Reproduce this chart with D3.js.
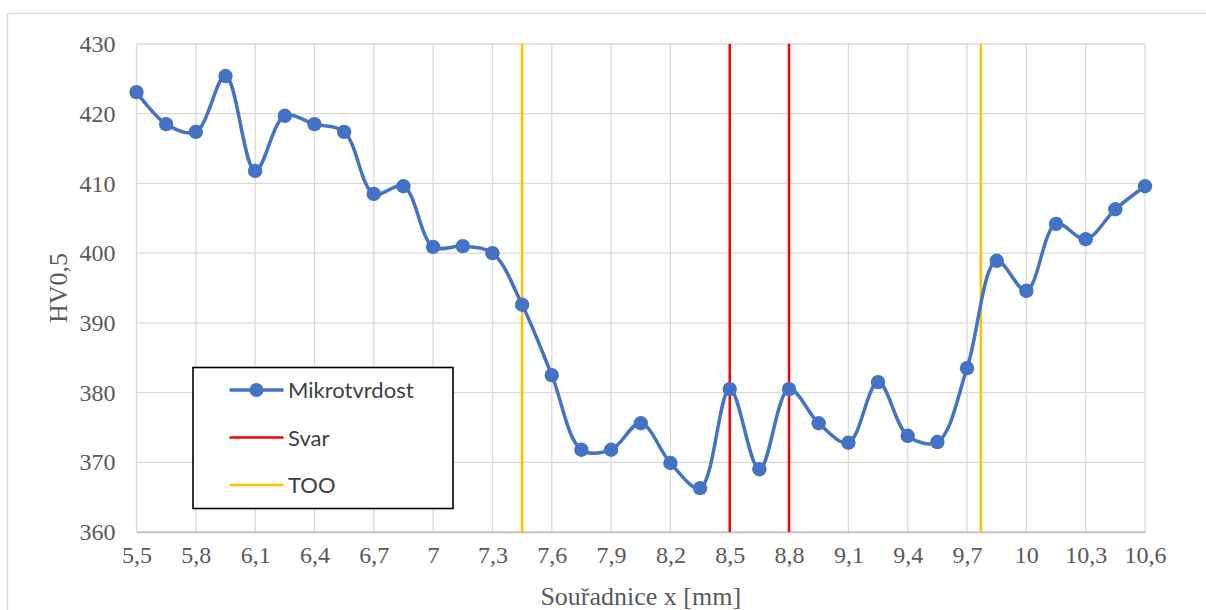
<!DOCTYPE html>
<html>
<head>
<meta charset="utf-8">
<script src="https://cdn.jsdelivr.net/npm/d3@7"></script>
<style>
  html, body { margin: 0; padding: 0; background: #fff; }
  svg { display: block; }
</style>
</head>
<body>
<svg id="chart" width="1206" height="610"></svg>
<script>
// Microhardness profile across the weld
const positions = [5.5, 5.65, 5.8, 5.95, 6.1, 6.25, 6.4, 6.55, 6.7, 6.85,
  7.0, 7.15, 7.3, 7.45, 7.6, 7.75, 7.9, 8.05, 8.2, 8.35,
  8.5, 8.65, 8.8, 8.95, 9.1, 9.25, 9.4, 9.55, 9.7, 9.85,
  10.0, 10.15, 10.3, 10.45, 10.6];
const hardness = [423.1, 418.5, 417.4, 425.4, 411.8, 419.7, 418.5, 417.4, 408.5, 409.6,
  400.9, 401.0, 400.0, 392.6, 382.5, 371.8, 371.8, 375.6, 369.9, 366.3,
  380.5, 369.0, 380.5, 375.6, 372.8, 381.5, 373.8, 372.9, 383.5, 398.9,
  394.6, 404.2, 402.0, 406.3, 409.6];

// Boundary markers: weld (Svar) and heat-affected zone (TOO)
const weldEdges = [8.5, 8.8];
const hazEdges = [7.45, 9.77];

const xTicks = [5.5, 5.8, 6.1, 6.4, 6.7, 7.0, 7.3, 7.6, 7.9, 8.2, 8.5, 8.8, 9.1, 9.4, 9.7, 10.0, 10.3, 10.6];
const yTicks = [360, 370, 380, 390, 400, 410, 420, 430];

const legendItems = ["Mikrotvrdost", "Svar", "TOO"];
const xTitle = "Souřadnice x [mm]";
const yTitle = "HV0,5";

const colors = { data: "#4472C4", weld: "#FF0000", haz: "#FFC000" };

const svg = d3.select("#chart");
const plot = { left: 136.5, right: 1145, top: 44, bottom: 532 };

const x = d3.scaleLinear().domain([5.5, 10.6]).range([plot.left, plot.right]);
const y = d3.scaleLinear().domain([360, 430]).range([plot.bottom, plot.top]);

const czech = d3.formatLocale({ decimal: ",", thousands: " ", grouping: [3], currency: ["", " Kč"] });
const fmt = czech.format("~g");

// outer chart frame
svg.append("rect")
  .attr("x", 7.5).attr("y", 13.5)
  .attr("width", 1230).attr("height", 640)
  .attr("fill", "#fff").attr("stroke", "#D9D9D9").attr("stroke-width", 1.3);

// gridlines
const grid = svg.append("g");
grid.selectAll("line.v").data(xTicks).join("line")
  .attr("x1", d => x(d)).attr("x2", d => x(d))
  .attr("y1", plot.top).attr("y2", plot.bottom)
  .attr("stroke", "#D9D9D9").attr("stroke-width", 1.3);
grid.selectAll("line.h").data(yTicks).join("line")
  .attr("x1", plot.left).attr("x2", plot.right)
  .attr("y1", d => y(d)).attr("y2", d => y(d))
  .attr("stroke", "#D9D9D9").attr("stroke-width", 1.3);

// x axis
const xAxis = svg.append("g")
  .attr("transform", `translate(0,${plot.bottom})`)
  .call(d3.axisBottom(x).tickValues(xTicks).tickFormat(fmt).tickSize(0).tickPadding(14));
xAxis.select(".domain").attr("stroke", "#BFBFBF").attr("stroke-width", 1.5);
xAxis.selectAll("text")
  .attr("font-family", "'Liberation Serif', 'Times New Roman', serif")
  .attr("font-size", 24).attr("fill", "#595959");

// y axis
const yAxis = svg.append("g")
  .attr("transform", `translate(${plot.left},0)`)
  .call(d3.axisLeft(y).tickValues(yTicks).tickFormat(fmt).tickSize(0).tickPadding(21));
yAxis.select(".domain").remove();
yAxis.selectAll("text")
  .attr("font-family", "'Liberation Serif', 'Times New Roman', serif")
  .attr("font-size", 24).attr("fill", "#595959");

// axis titles
svg.append("text")
  .attr("x", (plot.left + plot.right) / 2).attr("y", 605)
  .attr("text-anchor", "middle")
  .attr("font-family", "'Liberation Serif', 'Times New Roman', serif")
  .attr("font-size", 26).attr("fill", "#595959")
  .text(xTitle);
svg.append("text")
  .attr("transform", `translate(67,${(plot.top + plot.bottom) / 2}) rotate(-90)`)
  .attr("text-anchor", "middle")
  .attr("font-family", "'Liberation Serif', 'Times New Roman', serif")
  .attr("font-size", 26).attr("fill", "#595959")
  .text(yTitle);

// vertical zone boundaries
svg.append("g").selectAll("line").data(hazEdges).join("line")
  .attr("x1", d => x(d)).attr("x2", d => x(d))
  .attr("y1", plot.top).attr("y2", plot.bottom)
  .attr("stroke", colors.haz).attr("stroke-width", 2.5);
svg.append("g").selectAll("line").data(weldEdges).join("line")
  .attr("x1", d => x(d)).attr("x2", d => x(d))
  .attr("y1", plot.top).attr("y2", plot.bottom)
  .attr("stroke", colors.weld).attr("stroke-width", 2.5);

// smoothed hardness curve
const points = positions.map((p, i) => [p, hardness[i]]);
const line = d3.line()
  .x(d => x(d[0])).y(d => y(d[1]))
  .curve(d3.curveCatmullRom.alpha(0.5));
svg.append("path")
  .datum(points)
  .attr("d", line)
  .attr("fill", "none")
  .attr("stroke", colors.data)
  .attr("stroke-width", 3.5)
  .attr("stroke-linejoin", "round");
svg.append("g").selectAll("circle").data(points).join("circle")
  .attr("cx", d => x(d[0])).attr("cy", d => y(d[1]))
  .attr("r", 7.2)
  .attr("fill", colors.data);

// legend
const legend = svg.append("g");
legend.append("rect")
  .attr("x", 193).attr("y", 367.5).attr("width", 260).attr("height", 141)
  .attr("fill", "#fff").attr("stroke", "#000").attr("stroke-width", 1.6);
const legendColors = [colors.data, colors.weld, colors.haz];
const legendY = [390, 437.5, 485];
legendItems.forEach((name, i) => {
  const g = legend.append("g");
  g.append("line")
    .attr("x1", 229.5).attr("x2", 283.5)
    .attr("y1", legendY[i]).attr("y2", legendY[i])
    .attr("stroke", legendColors[i]).attr("stroke-width", i === 0 ? 3.5 : 2.5);
  if (i === 0) {
    g.append("circle").attr("cx", 256.5).attr("cy", legendY[i]).attr("r", 7).attr("fill", colors.data);
  }
  g.append("text")
    .attr("x", 288).attr("y", legendY[i] + 8)
    .attr("font-family", "Lato, 'Noto Sans', sans-serif")
    .attr("font-size", 22).attr("fill", "#404040")
    .text(name);
});
</script>
</body>
</html>
